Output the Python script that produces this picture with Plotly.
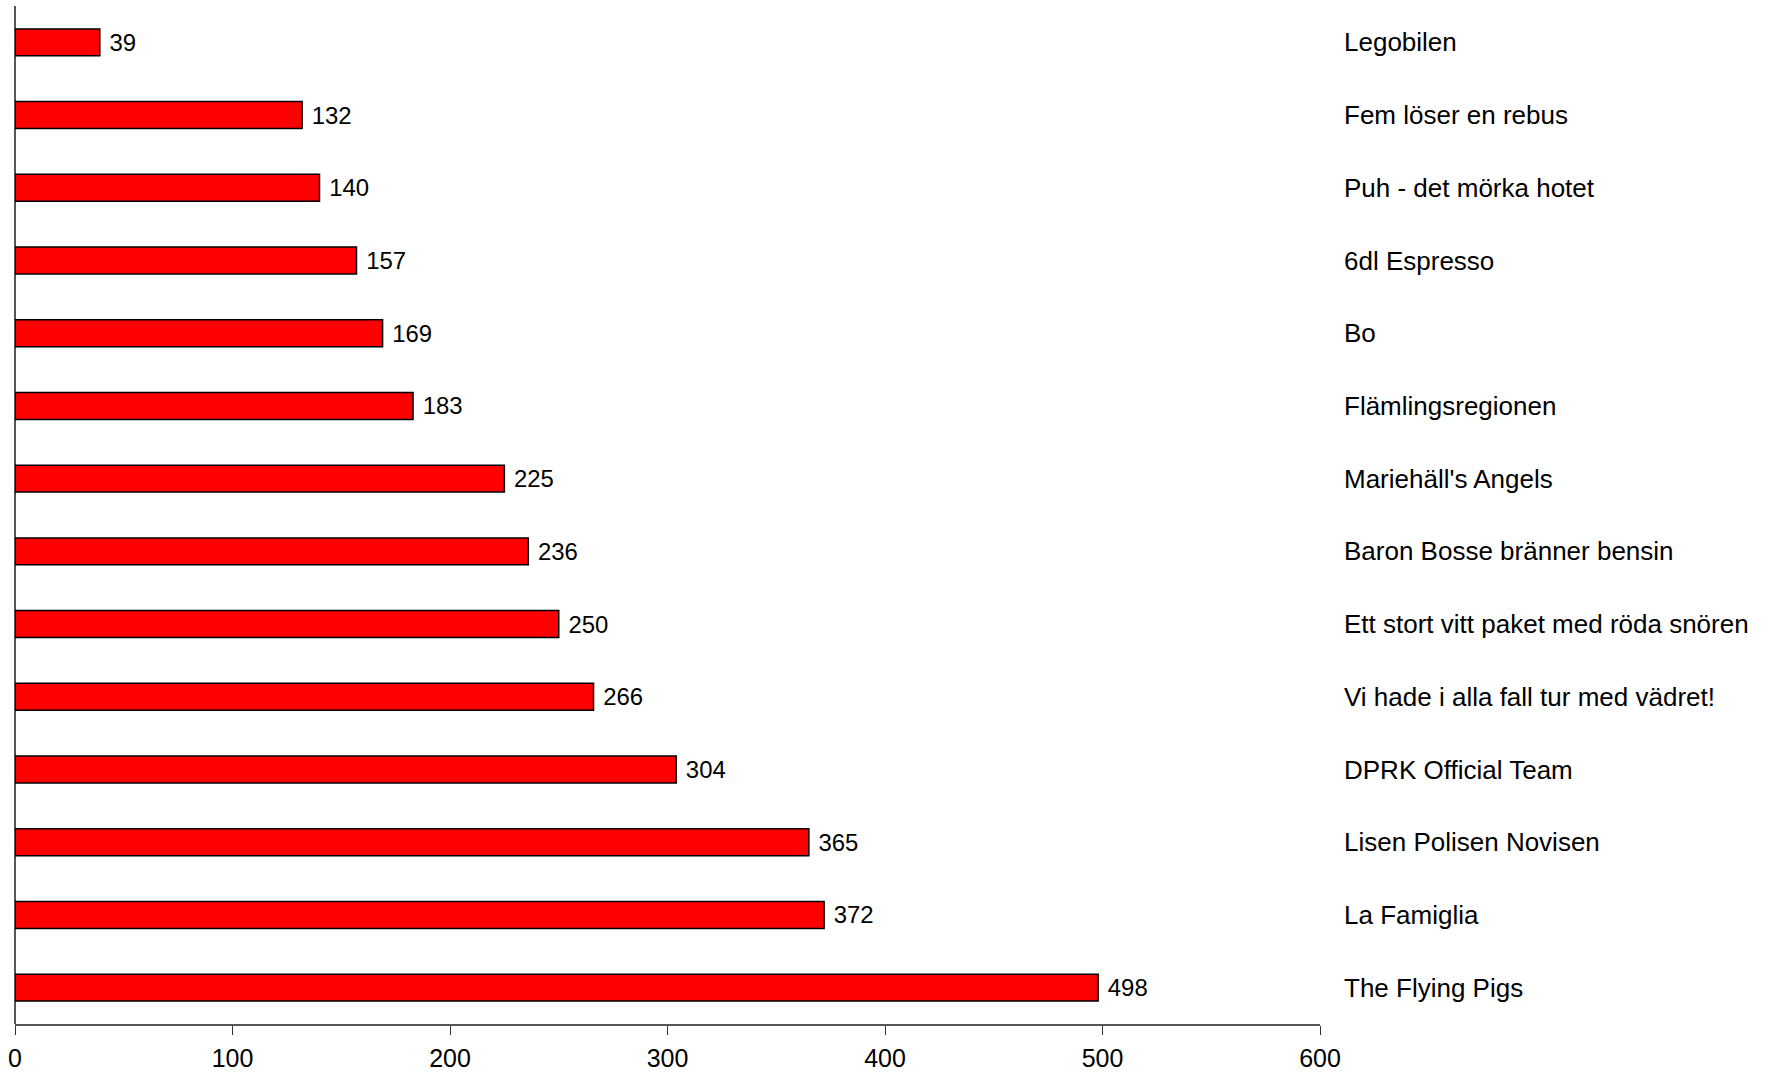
import plotly.graph_objects as go

teams = ["Legobilen", "Fem löser en rebus", "Puh - det mörka hotet", "6dl Espresso", "Bo",
         "Flämlingsregionen", "Mariehäll's Angels", "Baron Bosse bränner bensin",
         "Ett stort vitt paket med röda snören", "Vi hade i alla fall tur med vädret!",
         "DPRK Official Team", "Lisen Polisen Novisen", "La Famiglia", "The Flying Pigs"]
points = [39, 132, 140, 157, 169, 183, 225, 236, 250, 266, 304, 365, 372, 498]
x_ticks = [0, 100, 200, 300, 400, 500, 600]

FONT = "Liberation Sans, Arial, sans-serif"

fig = go.Figure(go.Bar(
    y=teams, x=points, orientation="h",
    marker=dict(color="#FF0000", line=dict(color="#000000", width=1.5)),
    text=[" " + str(v) for v in points], textposition="outside",
    textfont=dict(family=FONT, size=24, color="#000000"),
    cliponaxis=False,
))

fig.update_layout(
    width=1772, height=1072,
    margin=dict(l=15, r=452, t=6, b=48, autoexpand=False),
    paper_bgcolor="white", plot_bgcolor="white",
    bargap=0.63, showlegend=False,
    font=dict(family=FONT, size=24, color="#000000"),
)
fig.update_xaxes(
    range=[0, 600], tickvals=x_ticks, ticktext=[str(t) for t in x_ticks],
    showgrid=False, showline=True, linecolor="#555555", linewidth=1.5,
    ticks="outside", ticklen=9, tickcolor="#333333", tickwidth=1,
    zeroline=True, zerolinecolor="#555555", zerolinewidth=1.5,
    tickfont=dict(family=FONT, size=25, color="#000000"),
    ticklabelstandoff=2, automargin=False,
)
fig.update_yaxes(
    categoryorder="array", categoryarray=teams, autorange="reversed",
    side="right", showgrid=False, showline=False, ticks="",
    ticklabelstandoff=23, automargin=False,
    tickfont=dict(family=FONT, size=26, color="#000000"),
)

fig.write_html("out.html", config={"displayModeBar": False},
               post_script="document.body.style.margin='0px';document.body.style.overflow='hidden';")
